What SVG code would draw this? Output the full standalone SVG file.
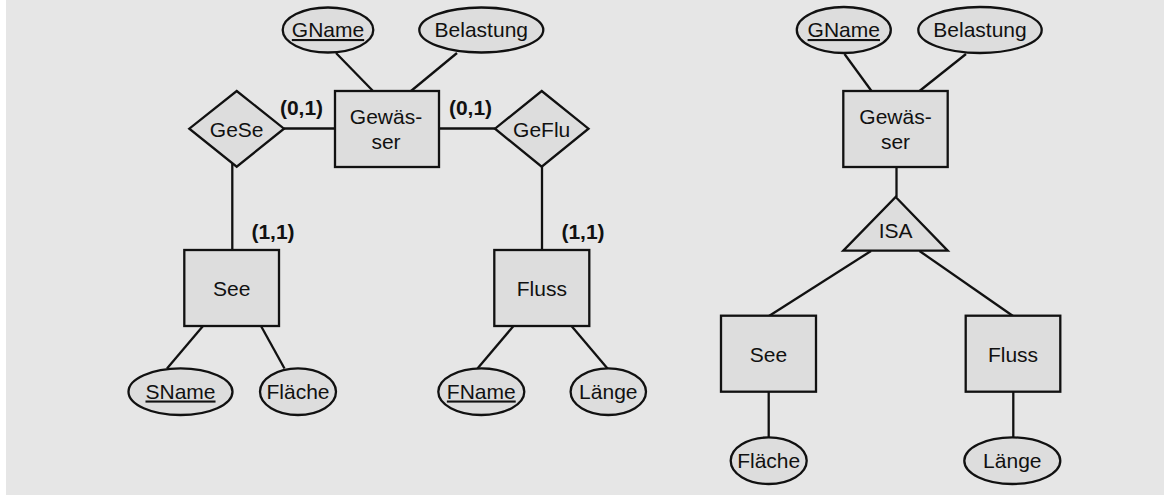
<svg xmlns="http://www.w3.org/2000/svg" width="1164" height="495" viewBox="0 0 1164 495">
<style>
.s{fill:#dddddd;stroke:#111;stroke-width:2.3}
.c line{stroke:#111;stroke-width:2.3}
text{font-family:"Liberation Sans",Arial,sans-serif;font-size:21px;fill:#111;text-anchor:middle}
.b{font-weight:bold}
.u{text-decoration:underline}
</style>
<rect x="0" y="0" width="1164" height="495" fill="#ffffff"/>
<rect x="6" y="0" width="1158" height="495" fill="#e6e6e6"/>
<g class="c" id="connectors">
<line x1="336" y1="53" x2="373" y2="91"/>
<line x1="457" y1="53" x2="411" y2="91"/>
<line x1="284" y1="128.5" x2="335" y2="128.5"/>
<line x1="439" y1="128.5" x2="495" y2="128.5"/>
<line x1="232.3" y1="163" x2="232.3" y2="250"/>
<line x1="542" y1="163" x2="542" y2="250"/>
<line x1="203" y1="326" x2="167" y2="368.5"/>
<line x1="261" y1="326" x2="284.5" y2="368.5"/>
<line x1="513.5" y1="326" x2="477.5" y2="368.5"/>
<line x1="571.5" y1="326" x2="607.5" y2="368.5"/>
<line x1="844.5" y1="54" x2="871.5" y2="91"/>
<line x1="966" y1="54" x2="919.5" y2="91"/>
<line x1="896.5" y1="167" x2="896.5" y2="197"/>
<line x1="871" y1="251" x2="769" y2="316"/>
<line x1="919.5" y1="251" x2="1013" y2="316"/>
<line x1="768.7" y1="392" x2="768.7" y2="437.5"/>
<line x1="1013.3" y1="392" x2="1013.3" y2="437.5"/>
</g>
<g id="gname1"><ellipse class="s" cx="328" cy="30" rx="45.3" ry="22.5"/><text class="u" x="328" y="37">GName</text></g>
<g id="belastung1"><ellipse class="s" cx="481.3" cy="30" rx="62" ry="22.5"/><text x="481.3" y="37">Belastung</text></g>
<g id="gewaesser1"><rect class="s" x="335" y="91" width="104" height="76"/><text x="386" y="123.5">Gewäs-</text><text x="386" y="148.5">ser</text></g>
<g id="gese"><polygon class="s" points="236.7,91 284,128.7 236.7,166.7 189.3,128.7"/><text x="236.7" y="136.5">GeSe</text></g>
<g id="geflu"><polygon class="s" points="541.7,91 588.5,128.7 541.7,166.7 495,128.7"/><text x="541.7" y="136.5">GeFlu</text></g>
<g id="card1"><text class="b" x="301.5" y="115">(0,1)</text></g>
<g id="card2"><text class="b" x="470.5" y="115">(0,1)</text></g>
<g id="card3"><text class="b" x="273" y="238.5">(1,1)</text></g>
<g id="card4"><text class="b" x="583" y="238.5">(1,1)</text></g>
<g id="see1"><rect class="s" x="184.3" y="250" width="94.7" height="76"/><text x="231.7" y="295.5">See</text></g>
<g id="fluss1"><rect class="s" x="494.3" y="250" width="95" height="76"/><text x="541.8" y="295.5">Fluss</text></g>
<g id="sname"><ellipse class="s" cx="180.5" cy="391.7" rx="52" ry="23.3"/><text class="u" x="180.5" y="398.5">SName</text></g>
<g id="flaeche1"><ellipse class="s" cx="298" cy="391.7" rx="38" ry="23.3"/><text x="298" y="398.5">Fläche</text></g>
<g id="fname"><ellipse class="s" cx="481.3" cy="391.7" rx="43" ry="23.3"/><text class="u" x="481.3" y="398.5">FName</text></g>
<g id="laenge1"><ellipse class="s" cx="608.3" cy="391.7" rx="37.7" ry="23.3"/><text x="608.3" y="398.5">Länge</text></g>
<g id="gname2"><ellipse class="s" cx="843.8" cy="30" rx="47" ry="23"/><text class="u" x="843.8" y="37">GName</text></g>
<g id="belastung2"><ellipse class="s" cx="980" cy="30" rx="61.7" ry="23"/><text x="980" y="37">Belastung</text></g>
<g id="gewaesser2"><rect class="s" x="843.3" y="91" width="104.4" height="76"/><text x="895.5" y="123.5">Gewäs-</text><text x="895.5" y="148.5">ser</text></g>
<g id="isa"><polygon class="s" points="895.7,197 947.7,250.7 843.3,250.7"/><text x="895.7" y="237.5">ISA</text></g>
<g id="see2"><rect class="s" x="721" y="315.7" width="95" height="76"/><text x="768.5" y="361.5">See</text></g>
<g id="fluss2"><rect class="s" x="965.7" y="315.7" width="94.6" height="76"/><text x="1013" y="361.5">Fluss</text></g>
<g id="flaeche2"><ellipse class="s" cx="768.7" cy="460.7" rx="38" ry="23.3"/><text x="768.7" y="467.5">Fläche</text></g>
<g id="laenge2"><ellipse class="s" cx="1012.3" cy="460.7" rx="48" ry="23.3"/><text x="1012.3" y="467.5">Länge</text></g>
</svg>
